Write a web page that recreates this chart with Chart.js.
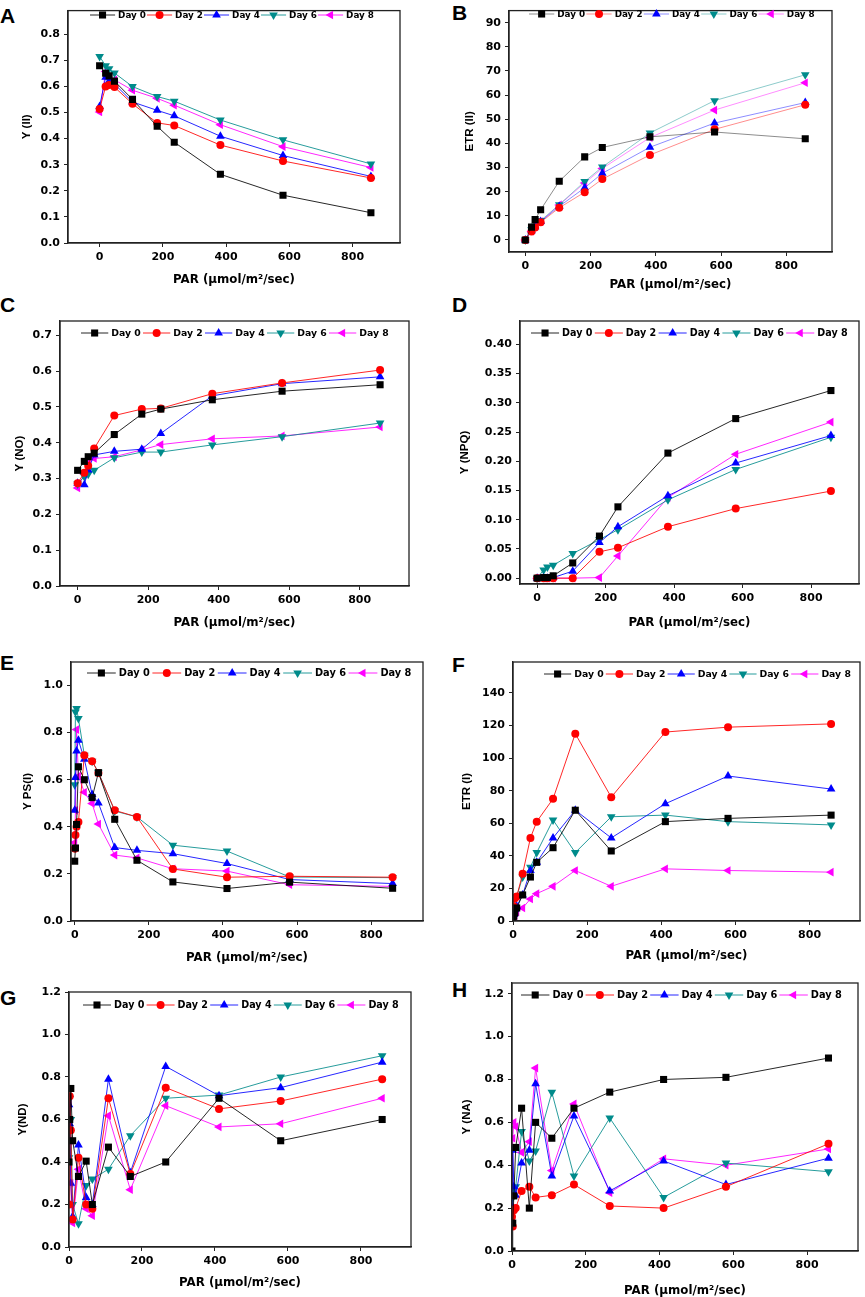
<!DOCTYPE html>
<html>
<head>
<meta charset="utf-8">
<script src="https://cdn.jsdelivr.net/npm/chart.js@4.4.1/dist/chart.umd.min.js"></script>
<style>
html, body { margin: 0; padding: 0; background: #fff; }
body { width: 865px; height: 1297px; position: relative; overflow: hidden; }
canvas { position: absolute; }
.lbl { position: absolute; font: bold 21px "Liberation Sans", Arial, sans-serif; line-height: 21px; color: #000; }
</style>
</head>
<body>
<div class="lbl" style="left:0px;top:5px">A</div>
<div class="lbl" style="left:452px;top:2px">B</div>
<div class="lbl" style="left:0px;top:294px">C</div>
<div class="lbl" style="left:452px;top:294px">D</div>
<div class="lbl" style="left:0px;top:652px">E</div>
<div class="lbl" style="left:452px;top:654px">F</div>
<div class="lbl" style="left:0px;top:987px">G</div>
<div class="lbl" style="left:452px;top:979px">H</div>
<script>
// series order in every panel: Day 0, Day 2, Day 4, Day 6, Day 8
const days = ["Day 0", "Day 2", "Day 4", "Day 6", "Day 8"];

// PAR steps (µmol/m²/sec)
const parPSII = [0, 19, 30, 47, 104, 182, 236, 382, 580, 858];
const parPSI = [0, 2, 5, 10, 26, 47, 64, 108, 168, 265, 411, 580, 858];

// A: Y(II)
const yII = [
  [0.679, 0.65, 0.64, 0.62, 0.55, 0.447, 0.386, 0.263, 0.183, 0.116],
  [0.513, 0.599, 0.605, 0.597, 0.533, 0.46, 0.45, 0.375, 0.314, 0.249],
  [0.523, 0.635, 0.62, 0.609, 0.54, 0.508, 0.487, 0.409, 0.335, 0.255],
  [0.714, 0.679, 0.667, 0.651, 0.599, 0.561, 0.543, 0.471, 0.395, 0.303],
  [0.502, 0.657, 0.63, 0.625, 0.585, 0.554, 0.528, 0.453, 0.369, 0.289]
];
// B: ETR(II)
const etrII = [
  [0, 5.3, 8.4, 12.5, 24.3, 34.4, 38.3, 42.7, 44.7, 41.9],
  [0, 3.5, 5.2, 7.3, 13.3, 19.8, 25.2, 35.2, 45.8, 56.0],
  [0, 3.8, 5.5, 7.6, 13.9, 21.6, 27.6, 38.4, 48.4, 56.9],
  [0, 4.2, 5.8, 8.0, 14.6, 24.2, 30.2, 44.3, 57.7, 68.4],
  [0, 3.6, 5.4, 7.6, 14.5, 23.6, 29.6, 42.4, 53.8, 65.1]
];
// C: Y(NO)
const yNO = [
  [0.323, 0.348, 0.361, 0.371, 0.423, 0.480, 0.494, 0.520, 0.544, 0.562],
  [0.287, 0.316, 0.336, 0.384, 0.476, 0.494, 0.496, 0.537, 0.567, 0.603],
  [0.287, 0.283, 0.324, 0.366, 0.376, 0.382, 0.426, 0.531, 0.565, 0.584],
  [0.285, 0.306, 0.312, 0.323, 0.358, 0.374, 0.374, 0.394, 0.417, 0.455],
  [0.274, 0.312, 0.343, 0.356, 0.361, 0.380, 0.395, 0.411, 0.419, 0.444]
];
// D: Y(NPQ)
const yNPQ = [
  [0, 0.001, 0.001, 0.004, 0.026, 0.072, 0.122, 0.214, 0.273, 0.321],
  [0, 0, 0, 0, 0, 0.045, 0.052, 0.088, 0.119, 0.149],
  [0, 0, 0, 0.001, 0.012, 0.061, 0.088, 0.141, 0.197, 0.244],
  [0, 0.014, 0.019, 0.022, 0.042, 0.066, 0.083, 0.134, 0.186, 0.241],
  [0, 0, 0, 0, 0, 0.001, 0.038, 0.138, 0.212, 0.267]
];
// E: Y PS(I)
const yPSI = [
  [0.254, 0.31, 0.41, 0.655, 0.60, 0.524, 0.63, 0.432, 0.258, 0.166, 0.138, 0.165, 0.139],
  [0.307, 0.365, 0.40, 0.42, 0.704, 0.679, 0.629, 0.47, 0.442, 0.221, 0.186, 0.19, 0.186],
  [0.47, 0.609, 0.722, 0.768, 0.687, 0.537, 0.501, 0.312, 0.30, 0.286, 0.244, 0.176, 0.159],
  [0.579, 0.888, 0.902, 0.86, 0.704, 0.679, 0.632, 0.467, 0.442, 0.322, 0.297, 0.187, 0.184],
  [0.333, 0.47, 0.813, 0.615, 0.547, 0.499, 0.412, 0.28, 0.268, 0.222, 0.212, 0.154, 0.147]
];
// F: ETR(I)
const etrI = [
  [1, 3, 5, 8, 16, 27, 36, 45, 68, 43, 61, 63, 65],
  [2, 9, 14, 15, 29, 51, 61, 75, 115, 76, 116, 119, 121],
  [1, 4, 7, 9, 16, 31, 36, 51, 68, 51, 72, 89, 81],
  [1, 5, 8, 15, 27, 33, 42, 62, 42, 64, 65, 61, 59],
  [1, 2, 3.5, 5.5, 8, 13.5, 16.8, 21.3, 31, 21.3, 32, 31, 30]
];
// G: Y(ND)
const yND = [
  [0.40, 0.60, 0.746, 0.50, 0.332, 0.404, 0.20, 0.47, 0.332, 0.40, 0.70, 0.50, 0.60],
  [0.20, 0.71, 0.55, 0.13, 0.42, 0.20, 0.18, 0.70, 0.343, 0.75, 0.65, 0.687, 0.79],
  [0.67, 0.58, 0.30, 0.144, 0.48, 0.233, 0.20, 0.79, 0.35, 0.85, 0.712, 0.75, 0.87],
  [0.42, 0.70, 0.60, 0.20, 0.11, 0.29, 0.32, 0.366, 0.524, 0.70, 0.715, 0.80, 0.90],
  [0.676, 0.50, 0.30, 0.113, 0.366, 0.18, 0.147, 0.618, 0.27, 0.665, 0.565, 0.58, 0.70]
];
// H: Y(NA)
const yNA = [
  [0, 0.13, 0.257, 0.483, 0.666, 0.20, 0.60, 0.526, 0.666, 0.741, 0.80, 0.81, 0.90],
  [0.16, 0.114, 0.19, 0.20, 0.28, 0.30, 0.25, 0.26, 0.31, 0.21, 0.20, 0.30, 0.50],
  [0.20, 0.47, 0.30, 0.26, 0.41, 0.47, 0.78, 0.35, 0.63, 0.28, 0.42, 0.31, 0.433],
  [0.185, 0.25, 0.29, 0.30, 0.557, 0.42, 0.467, 0.74, 0.35, 0.62, 0.25, 0.41, 0.37],
  [0.20, 0.526, 0.60, 0.58, 0.46, 0.51, 0.853, 0.375, 0.686, 0.272, 0.43, 0.40, 0.476]
];

// tick labels
const xTicksPAR = [0, 200, 400, 600, 800];
const yTicksA = [0, 0.1, 0.2, 0.3, 0.4, 0.5, 0.6, 0.7, 0.8];
const yTicksB = [0, 10, 20, 30, 40, 50, 60, 70, 80, 90];
const yTicksC = [0, 0.1, 0.2, 0.3, 0.4, 0.5, 0.6, 0.7];
const yTicksD = [0, 0.05, 0.10, 0.15, 0.20, 0.25, 0.30, 0.35, 0.40];
const yTicksE = [0, 0.2, 0.4, 0.6, 0.8, 1.0];
const yTicksF = [0, 20, 40, 60, 80, 100, 120, 140];
const yTicksG = [0, 0.2, 0.4, 0.6, 0.8, 1.0, 1.2];
const yTicksH = [0, 0.2, 0.4, 0.6, 0.8, 1.0, 1.2];

const xTitle = "PAR (\u03bcmol/m\u00b2/sec)";

// styles
const colors = ["#000000", "#ff0000", "#0000ff", "#008b8b", "#ff00ff"];
const lineRgb = ["0,0,0", "255,0,0", "0,0,255", "0,139,139", "255,0,255"];
const shapes = ["rect", "circle", "triangle", "triangle", "triangle"];
const rots = [0, 0, 0, 180, -90];
const radii = [5, 4, 5, 5, 5];
const tickFont = { family: "'DejaVu Sans', sans-serif", weight: "bold", size: 11 };

// geometry: canvas box, plot box (page px), title positions, legend span
const panels = [
  { cv: [0, 0, 432, 300], box: [68, 3, 400, 243], xr: [-100, 950], yr: [0, 0.89], x: parPSII, data: yII,
    yt: yTicksA, dec: 1, yTitle: "Y (II)", yTitleX: 27, xTitleY: 280, leg: [90, 375, 15], legSize: 8.8, alpha: 0.85 },
  { cv: [432, 0, 433, 300], box: [509, 3, 832, 252], xr: [-50, 940], yr: [-5, 95], x: parPSII, data: etrII,
    yt: yTicksB, dec: 0, yTitle: "ETR (II)", yTitleX: 470, xTitleY: 285, leg: [529, 816, 14], legSize: 8.8, alpha: 0.45 },
  { cv: [0, 300, 432, 330], box: [60, 321, 409, 586], xr: [-50, 940], yr: [0, 0.74], x: parPSII, data: yNO,
    yt: yTicksC, dec: 1, yTitle: "Y (NO)", yTitleX: 20, xTitleY: 623, leg: [81, 391, 333], legSize: 9.3, alpha: 0.85 },
  { cv: [432, 300, 433, 330], box: [520, 321, 859, 584], xr: [-50, 940], yr: [-0.01, 0.44], x: parPSII, data: yNPQ,
    yt: yTicksD, dec: 2, yTitle: "Y (NPQ)", yTitleX: 465, xTitleY: 623, leg: [531, 850, 333], legSize: 9.6, alpha: 0.85 },
  { cv: [0, 630, 432, 335], box: [71, 662, 423, 921], xr: [-10, 940], yr: [0, 1.1], x: parPSI, data: yPSI,
    yt: yTicksE, dec: 1, yTitle: "Y PS(I)", yTitleX: 28, xTitleY: 958, leg: [87, 414, 673], legSize: 9.8, alpha: 0.85 },
  { cv: [432, 630, 433, 335], box: [513, 662, 863, 921], xr: [0, 936], yr: [0, 159], x: parPSI, data: etrI,
    yt: yTicksF, dec: 0, yTitle: "ETR (I)", yTitleX: 467, xTitleY: 956, leg: [544, 853, 674], legSize: 9.3, alpha: 0.85 },
  { cv: [0, 965, 432, 332], box: [69, 992, 411, 1247], xr: [0, 937], yr: [0, 1.2], x: parPSI, data: yND,
    yt: yTicksG, dec: 1, yTitle: "Y(ND)", yTitleX: 23, xTitleY: 1283, leg: [83, 401, 1005], legSize: 9.6, alpha: 0.85 },
  { cv: [432, 965, 433, 332], box: [512, 983, 858, 1251], xr: [0, 938], yr: [0, 1.25], x: parPSI, data: yNA,
    yt: yTicksH, dec: 1, yTitle: "Y (NA)", yTitleX: 467, xTitleY: 1291, leg: [521, 844, 995], legSize: 9.8, alpha: 0.85 }
];

function marker(ctx, shape, rot, r, x, y, color) {
  ctx.save();
  ctx.translate(x, y);
  ctx.rotate(rot * Math.PI / 180);
  ctx.fillStyle = color;
  ctx.beginPath();
  if (shape === "rect") {
    const s = r * Math.SQRT1_2;
    ctx.rect(-s, -s, 2 * s, 2 * s);
  } else if (shape === "circle") {
    ctx.arc(0, 0, r, 0, 2 * Math.PI);
  } else {
    for (let k = 0; k < 3; k++) {
      const a = k * 2 * Math.PI / 3;
      const px = Math.sin(a) * r, py = -Math.cos(a) * r;
      if (k === 0) ctx.moveTo(px, py); else ctx.lineTo(px, py);
    }
    ctx.closePath();
  }
  ctx.fill();
  ctx.restore();
}

const framePlugin = {
  id: "frame",
  afterDraw(chart) {
    const a = chart.chartArea, ctx = chart.ctx;
    ctx.save();
    ctx.strokeStyle = "#222";
    ctx.lineWidth = 1.3;
    ctx.strokeRect(a.left, a.top, a.right - a.left, a.bottom - a.top);
    ctx.restore();
  }
};

const legendPlugin = {
  id: "insideLegend",
  afterDraw(chart, args, opts) {
    const ctx = chart.ctx;
    const step = (opts.x1 - opts.x0) / 5;
    const len = step * 0.44;
    ctx.save();
    ctx.font = "bold " + opts.size + "px 'DejaVu Sans', sans-serif";
    ctx.textBaseline = "middle";
    chart.data.datasets.forEach((ds, i) => {
      const x = opts.x0 + i * step;
      ctx.strokeStyle = ds.borderColor;
      ctx.lineWidth = 1;
      ctx.beginPath();
      ctx.moveTo(x, opts.y);
      ctx.lineTo(x + len, opts.y);
      ctx.stroke();
      marker(ctx, shapes[i], rots[i], radii[i], x + len / 2, opts.y, colors[i]);
      ctx.fillStyle = "#000";
      ctx.fillText(ds.label, x + len + 3, opts.y + 0.5);
    });
    ctx.restore();
  }
};

panels.forEach(p => {
  const [cx, cy, cw, ch] = p.cv;
  const cv = document.createElement("canvas");
  cv.width = cw; cv.height = ch;
  cv.style.left = cx + "px"; cv.style.top = cy + "px";
  cv.style.width = cw + "px"; cv.style.height = ch + "px";
  document.body.appendChild(cv);

  const xTitleSize = 11.8, yTitleSize = 11.5;
  const xPadBottom = (cy + ch) - p.xTitleY - xTitleSize * 0.6;
  const yPadTop = p.yTitleX - cx - yTitleSize * 0.6;

  new Chart(cv, {
    type: "line",
    data: {
      datasets: days.map((d, i) => ({
        label: d,
        data: p.x.map((xv, j) => ({ x: xv, y: p.data[i][j] })),
        borderColor: "rgba(" + lineRgb[i] + "," + p.alpha + ")",
        backgroundColor: colors[i],
        pointBackgroundColor: colors[i],
        pointBorderColor: colors[i],
        pointBorderWidth: 0,
        pointStyle: shapes[i],
        pointRotation: rots[i],
        pointRadius: radii[i],
        borderWidth: 1,
        tension: 0
      }))
    },
    options: {
      responsive: false,
      animation: false,
      events: [],
      layout: { padding: { left: 0, top: p.box[1] - cy, right: cx + cw - p.box[2], bottom: 0 } },
      plugins: {
        legend: { display: false },
        tooltip: { enabled: false },
        insideLegend: { x0: p.leg[0] - cx, x1: p.leg[1] - cx, y: p.leg[2] - cy, size: p.legSize }
      },
      scales: {
        x: {
          type: "linear",
          min: p.xr[0], max: p.xr[1],
          afterBuildTicks: s => { s.ticks = xTicksPAR.map(v => ({ value: v })); },
          afterFit: s => { s.height = cy + ch - p.box[3]; },
          grid: { drawOnChartArea: false, tickLength: 4, color: "#222" },
          border: { color: "#222", width: 1.3 },
          ticks: { font: tickFont, color: "#000", padding: 4, maxRotation: 0, autoSkip: false, callback: v => v },
          title: { display: true, text: xTitle, color: "#000",
                   font: { family: "'DejaVu Sans', sans-serif", weight: "bold", size: xTitleSize },
                   padding: { top: 0, bottom: xPadBottom } }
        },
        y: {
          type: "linear",
          min: p.yr[0], max: p.yr[1],
          afterBuildTicks: s => { s.ticks = p.yt.map(v => ({ value: v })); },
          afterFit: s => { s.width = p.box[0] - cx; },
          grid: { drawOnChartArea: false, tickLength: 4, color: "#222" },
          border: { color: "#222", width: 1.3 },
          ticks: { font: tickFont, color: "#000", padding: 4, autoSkip: false, callback: v => v.toFixed(p.dec) },
          title: { display: true, text: p.yTitle, color: "#000",
                   font: { family: "'Liberation Sans', Arial, sans-serif", weight: "bold", size: yTitleSize },
                   padding: { top: yPadTop, bottom: 0 } }
        }
      }
    },
    plugins: [framePlugin, legendPlugin]
  });
});
</script>
</body>
</html>
